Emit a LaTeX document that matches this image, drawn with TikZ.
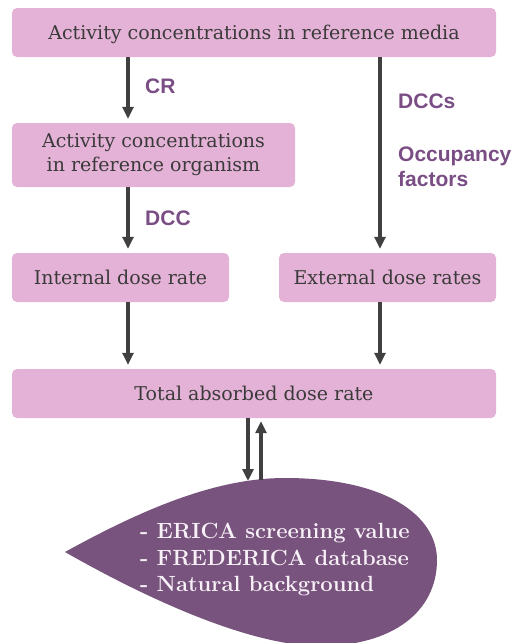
\documentclass[tikz,border=0pt]{standalone}
\usepackage{fontspec}
\newfontfamily\labelfont{Liberation Sans}
\newfontfamily\stagefont{DejaVu Serif}
\usetikzlibrary{arrows.meta}

\definecolor{boxpink}{HTML}{E4B2D6}
\definecolor{blobpurple}{HTML}{78537D}
\definecolor{labelpurple}{HTML}{7A4E84}
\definecolor{arrowgray}{HTML}{404040}
\definecolor{textgray}{HTML}{3A3A3A}
\definecolor{blobtext}{HTML}{F7F0F7}

\tikzset{
  stage/.style={rectangle, rounded corners=5pt, fill=boxpink, text=textgray,
    align=center, minimum height=49pt, inner sep=0pt,
    font=\stagefont\fontsize{19}{24}\selectfont},
  flow/.style={draw=arrowgray, line width=4pt, shorten >=4pt,
    -{Triangle[length=12pt,width=11pt]}},
  factor/.style={text=labelpurple, font=\labelfont\bfseries\fontsize{21}{25}\selectfont,
    anchor=base west, inner sep=0pt},
}

\begin{document}
\begin{tikzpicture}[x=1pt,y=-1pt]
    \useasboundingbox (0,0) rectangle (518,643);

    % boxes
    \node[stage, minimum width=484pt, text height=14pt, text depth=0pt] (media) at (254,32.5) {Activity concentrations in reference media};
    \node[stage, minimum width=283pt, minimum height=64pt] (organism) at (153.5,155) {Activity concentrations\\ in reference organism};
    \node[stage, minimum width=217pt, text height=14pt, text depth=0pt] (internal) at (120.5,277.5) {Internal dose rate};
    \node[stage, minimum width=217pt, text height=14pt, text depth=0pt] (external) at (387.5,277.5) {External dose rates};
    \node[stage, minimum width=484pt, text height=14pt, text depth=0pt] (total) at (254,393.5) {Total absorbed dose rate};

    % factors
    \node[factor] (cr) at (145,93) {CR};
    \node[factor] (dcc) at (145,225) {DCC};
    \node[factor] (dccs) at (398,108) {DCCs};
    \node[factor] (occupancy) at (398,161) {Occupancy};
    \node[factor] (factors) at (398,186) {factors};

    % arrows
    \coordinate (left) at (128,0);
    \coordinate (right) at (380,0);
    \draw[flow] (media.south -| left) -- (organism.north -| left);
    \draw[flow] (organism.south -| left) -- (internal.north -| left);
    \draw[flow] (media.south -| right) -- (external.north -| right);
    \draw[flow] (internal.south -| left) -- (total.north -| left);
    \draw[flow] (external.south -| right) -- (total.north -| right);

    % benchmark drop
    \fill[blobpurple] (65,552) .. controls (150,505) and (220,478) .. (285,478)
        .. controls (385,478) and (437,515) .. (437,560)
        .. controls (437,612) and (392,646) .. (320,646)
        .. controls (245,646) and (135,592) .. cycle;
    \node[anchor=west, align=left, text=blobtext, inner sep=0pt,
        font=\bfseries\fontsize{22}{26.5}\selectfont] (checks) at (140,560)
        {- ERICA screening value\\ - FREDERICA database\\ - Natural background};

    \coordinate (down) at (248,481);
    \coordinate (up) at (261,480);
    \draw[flow, shorten >=0pt] (total.south -| down) -- (down);
    \draw[flow, shorten >=3pt] (up) -- (total.south -| up);
\end{tikzpicture}
\end{document}
